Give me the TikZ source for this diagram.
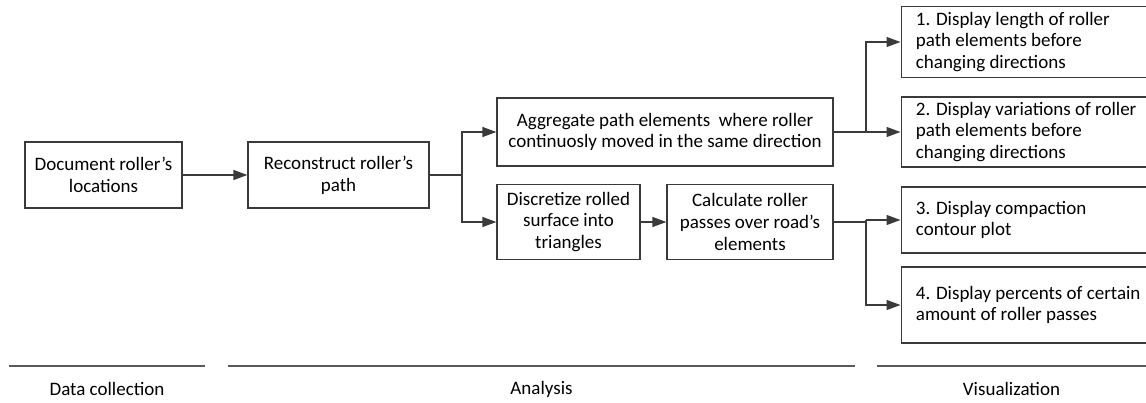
\documentclass[tikz,border=0pt]{standalone}
\usepackage{fontspec}
\setmainfont{Carlito}
\usetikzlibrary{arrows.meta}
\definecolor{edge}{HTML}{3A3A3A}
\definecolor{rule}{HTML}{5A5A5A}
\begin{document}
\begin{tikzpicture}[x=1pt,y=-1pt,
  every node/.style={font=\fontsize{19}{21.8}\selectfont, text=black},
  cbox/.style={draw=edge, line width=1.3pt, align=center, inner sep=0pt},
  lbox/.style={draw=edge, line width=1.3pt, align=flush left, anchor=west, inner ysep=0pt, inner xsep=14.75pt, text width=232pt},
  conn/.style={draw=edge, line width=1.3pt},
  arr/.style={conn, -{Triangle[length=14pt,width=10pt]}},
  sep/.style={draw=rule, line width=2pt},
  phase/.style={font=\fontsize{19}{21.8}\selectfont}]
\useasboundingbox (0,0) rectangle (1146,403);
% analysis boxes
\node[cbox, minimum width=157pt, minimum height=66pt] (A) at (103.5,175) {Document roller’s\\locations};
\node[cbox, minimum width=181pt, minimum height=66pt] (B) at (338.5,175) {Reconstruct roller’s\\path};
\node[cbox, minimum width=336pt, minimum height=68pt] (C) at (665,132) {Aggregate path elements~ where roller\\continuosly moved in the same direction};
\node[cbox, minimum width=143pt, minimum height=75pt] (D) at (568.5,222) {Discretize rolled\\surface into\\triangles};
\node[cbox, minimum width=166pt, minimum height=75pt] (E) at (750,222) {Calculate roller\\passes over road’s\\elements};
% visualization boxes (right side runs past the page edge, as in the original)
\node[lbox, minimum height=71pt] (V1) at (900.5,42) {1. Display length of roller\\path elements before\\changing directions};
\node[lbox, minimum height=70pt] (V2) at (900.5,132) {2. Display variations of roller\\path elements before\\changing directions};
\node[lbox, minimum height=66pt] (V3) at (900.5,220) {3. Display compaction\\contour plot};
\node[lbox, minimum height=76pt] (V4) at (900.5,305) {4. Display percents of certain\\amount of roller passes};
% junctions
\coordinate (j1) at (462,175);
\coordinate (j2) at (866,132);
\coordinate (j3) at (866,220);
% connectors
\draw[arr] (A.east) -- (B.west);
\draw[conn] (B.east) -- (j1);
\draw[arr] (j1) |- (C.west);
\draw[arr] (j1) |- (D.west);
\draw[arr] (D.east) -- (E.west);
\draw[conn] (C.east) -- (j2);
\draw[arr] (j2) |- (V1.west);
\draw[arr] (j2) -- (V2.west);
\draw[conn] (E.east) -| (j3);
\draw[arr] (j3) -- (V3.west);
\draw[arr] (j3) |- (V4.west);
% phase separators
\coordinate (s1a) at (9,366); \coordinate (s1b) at (205,366);
\coordinate (s2a) at (228,366); \coordinate (s2b) at (855,366);
\coordinate (s3a) at (877,366); \coordinate (s3b) at (1146,366);
\draw[sep] (s1a) -- (s1b);
\draw[sep] (s2a) -- (s2b);
\draw[sep] (s3a) -- (s3b);
\node[phase] (P1) at (107,389) {Data collection};
\node[phase] (P2) at (541.5,389) {Analysis};
\node[phase] (P3) at (1011.5,389) {Visualization};
\end{tikzpicture}
\end{document}
